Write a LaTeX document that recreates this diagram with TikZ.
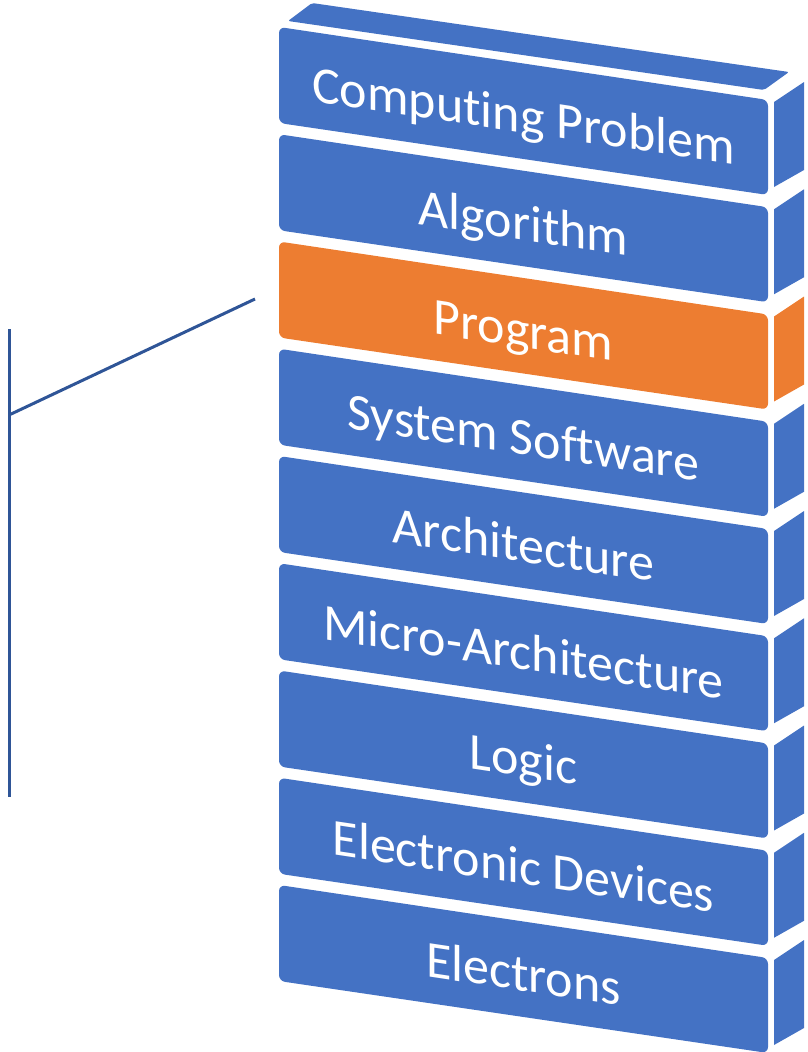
\documentclass[tikz,border=0pt]{standalone}
\usepackage{fontspec}
\setmainfont{Carlito}[Ligatures={NoCommon}]
\definecolor{blk}{HTML}{4472C4}
\definecolor{org}{HTML}{ED7D31}
\definecolor{lin}{HTML}{2F5597}
\tikzset{
  lbl/.style={text=white, font=\fontsize{52}{60}\selectfont, inner sep=0pt, yslant=-0.151},
  conn/.style={draw=lin, line width=3pt},
}
\begin{document}
\begin{tikzpicture}[x=1pt,y=-1pt]
\useasboundingbox (0,0) rectangle (807,1052);
% top face of the stack
\fill[blk, rounded corners=2pt] (288,21) -- (312,3) -- (789,72) -- (764,90) -- cycle;
\foreach \i/\t/\c in {0/Computing Problem/blk, 1/Algorithm/blk, 2/Program/org,
  3/System Software/blk, 4/Architecture/blk, 5/Micro-Architecture/blk,
  6/Logic/blk, 7/Electronic Devices/blk, 8/Electrons/blk} {
  \pgfmathsetmacro\yo{27+107.25*\i}
  \fill[\c, rounded corners=6pt] (279,\yo) -- (768,\yo+73) -- (768,\yo+168) -- (279,\yo+96) -- cycle;
  \fill[\c] (774,\yo+75) -- (804,\yo+55) -- (804,\yo+143) -- (774,\yo+160) -- cycle;
  \node[lbl, anchor=base] (b\i) at (523.5,\yo+106) {\t};
}
\coordinate (vtop) at (9,329);
\coordinate (vbot) at (9,797);
\coordinate (vj) at (9,415);
\coordinate (dend) at (255,299);
\draw[conn] (vtop) -- (vbot);
\draw[conn] (vj) -- (dend);
\end{tikzpicture}
\end{document}
